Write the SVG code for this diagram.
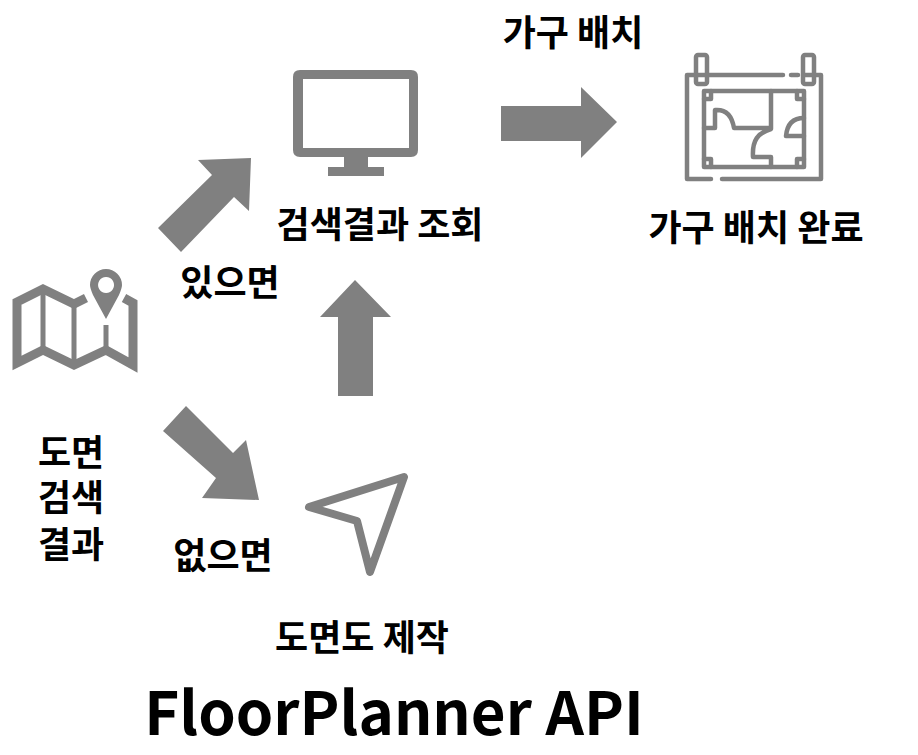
<svg xmlns="http://www.w3.org/2000/svg" width="918" height="755" viewBox="0 0 918 755">
<style>
.t{font-family:"Noto Sans CJK KR","Noto Sans",sans-serif;font-weight:700;fill:#000;font-size:36px}
.a{fill:#808080}
.l{fill:none;stroke:#808080;stroke-width:4.5;stroke-linejoin:round;stroke-linecap:round}
.m{fill:none;stroke:#808080;stroke-width:9;stroke-linejoin:miter}
</style>
<rect width="918" height="755" fill="#fff"/>
<g id="connectors">
<polygon class="a" points="158,228 212,175 198,160 251,158 249,211 234,197 181,252"/>
<polygon class="a" points="501,106 581,106 581,87 617,122 581,158 581,141 501,141"/>
<polygon class="a" points="338,396 338,317 320,317 355,280 391,317 373,317 373,396"/>
<polygon class="a" points="163,431 186,406 233,453 246,440 259,500 202,498 216,478"/>
</g>
<g id="node-monitor">
<path class="a" fill-rule="evenodd" d="M300 70H411Q418 70 418 77V150Q418 157 411 157H368V167H384V176H328V167H344V157H300Q293 157 293 150V77Q293 70 300 70ZM303 79V148H409V79Z"/>
<text class="t" x="380" y="238" text-anchor="middle">검색결과 조회</text>
</g>
<g id="node-plan">
<path class="l" d="M706 75H687V179H711M722 179H821V75H804M798 75H791M708 75H783"/>
<rect class="l" x="696" y="55" width="11" height="29" rx="2"/>
<rect class="l" x="803" y="55" width="11" height="29" rx="2"/>
<rect class="l" x="704" y="91" width="100" height="76"/>
<path class="l" d="M771 91V129C758 133 752 140 753 157H771V167M704 128H715V110C726 109 732 116 734 128H771M804 118C792 118 787 125 786 136H804"/>
<path class="l" d="M704 99H711V91M804 99H797M704 159H711V167M804 159H797V167M797 99V91"/>
<text class="t" x="573" y="46" text-anchor="middle">가구 배치</text>
<text class="t" x="756" y="241" text-anchor="middle">가구 배치 완료</text>
</g>
<g id="node-map">
<path class="m" d="M85 299L74 289V290L43 288L17 301V363L43 350L74 365L106 350L133 365V301L124 296" style="display:none"/>
<path class="m" d="M86 299L43 288M87 299L74 305L43 289L17 302V363L43 350L74 365L106 350L133 365V302L125 297" style="display:none"/>
<path class="m" d="M86 298L74 304L43 289L17 302V363L43 350L74 365L106 350L133 365V303L124 298"/>
<path d="M43 289V350M74 304V365M106 325V350" fill="none" stroke="#808080" stroke-width="5"/>
<path class="a" fill-rule="evenodd" d="M106 319L93 295Q90 288 90 285A16 16 0 0 1 122 285Q122 288 119 295ZM106 277A8 8 0 1 0 106.1 277Z"/>
<text class="t"><tspan x="71" y="466" text-anchor="middle">도면</tspan><tspan x="71" y="511" text-anchor="middle">검색</tspan><tspan x="71" y="558" text-anchor="middle">결과</tspan></text>
</g>
<g id="node-cursor">
<path d="M309 507L404 477L370 572L357 521Z" fill="none" stroke="#808080" stroke-width="8" stroke-linejoin="round"/>
<text class="t" x="362" y="651" text-anchor="middle">도면도 제작</text>
</g>
<text class="t" x="230" y="296" text-anchor="middle">있으면</text>
<text class="t" x="223" y="569" text-anchor="middle">없으면</text>
<text class="t" x="394" y="735" text-anchor="middle" style="font-size:60px">FloorPlanner API</text>
</svg>
